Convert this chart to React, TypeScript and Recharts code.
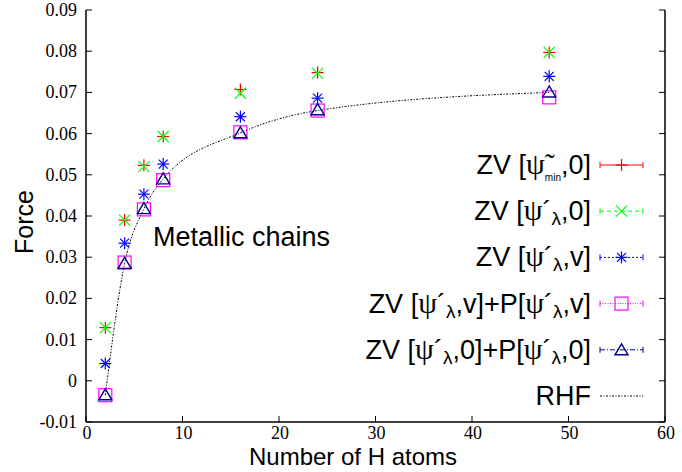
import React from 'react';
import { ComposedChart, Line, XAxis, YAxis, Customized } from 'recharts';

const nAtoms = [2, 4, 6, 8, 16, 24, 48];
const zvMin = [0.0129, 0.039, 0.0523, 0.0593, 0.0707, 0.0748, 0.0797];
const zvLam0 = [0.0129, 0.039, 0.052, 0.0593, 0.0698, 0.0746, 0.0797];
const zvLamV = [0.0042, 0.0334, 0.0453, 0.0526, 0.0641, 0.0686, 0.0739];
const zvPV = [-0.0035, 0.0287, 0.0416, 0.0487, 0.0603, 0.0656, 0.0688];
const zvP0 = [-0.0034, 0.0285, 0.0418, 0.049, 0.0602, 0.0658, 0.0701];
const rhf = [-0.0035, 0.0285, 0.0417, 0.049, 0.0602, 0.0656, 0.07];

const xTicks = [0, 10, 20, 30, 40, 50, 60];
const yTicks = [-0.01, 0, 0.01, 0.02, 0.03, 0.04, 0.05, 0.06, 0.07, 0.08, 0.09];

const xTitle = 'Number of H atoms';
const yTitle = 'Force';
const annotation = 'Metallic chains';

const data = nAtoms.map((n, i) => ({
  n,
  zvMin: zvMin[i],
  zvLam0: zvLam0[i],
  zvLamV: zvLamV[i],
  zvPV: zvPV[i],
  zvP0: zvP0[i],
  rhf: rhf[i],
}));

const SANS = 'Liberation Sans, Arial, Helvetica, sans-serif';
const SERIF = 'Liberation Serif, Times New Roman, serif';

const RED = '#ff0000';
const GREEN = '#00ff00';
const BLUE = '#0000ff';
const MAGENTA = '#ff00ff';
const NAVY = '#00008b';

type MarkerKind = 'plus' | 'cross' | 'star' | 'square' | 'triangle';

function Marker({ kind, cx, cy, color }: { kind: MarkerKind; cx: number; cy: number; color: string }) {
  const s = 6;
  const sw = 1.2;
  if (kind === 'plus') {
    return (
      <g stroke={color} strokeWidth={sw}>
        <line x1={cx - s} y1={cy} x2={cx + s} y2={cy} />
        <line x1={cx} y1={cy - s} x2={cx} y2={cy + s} />
      </g>
    );
  }
  if (kind === 'cross') {
    const d = 5.5;
    return (
      <g stroke={color} strokeWidth={sw}>
        <line x1={cx - d} y1={cy - d} x2={cx + d} y2={cy + d} />
        <line x1={cx - d} y1={cy + d} x2={cx + d} y2={cy - d} />
      </g>
    );
  }
  if (kind === 'star') {
    const d = 4.5;
    return (
      <g stroke={color} strokeWidth={sw}>
        <line x1={cx - s} y1={cy} x2={cx + s} y2={cy} />
        <line x1={cx} y1={cy - s} x2={cx} y2={cy + s} />
        <line x1={cx - d} y1={cy - d} x2={cx + d} y2={cy + d} />
        <line x1={cx - d} y1={cy + d} x2={cx + d} y2={cy - d} />
      </g>
    );
  }
  if (kind === 'square') {
    return <rect x={cx - 6.5} y={cy - 6.5} width={13} height={13} fill="none" stroke={color} strokeWidth={sw} />;
  }
  return (
    <polygon
      points={`${cx},${cy - 6} ${cx - 6.5},${cy + 5} ${cx + 6.5},${cy + 5}`}
      fill="none"
      stroke={color}
      strokeWidth={1.4}
    />
  );
}

const makeDot = (kind: MarkerKind, color: string) => (props: any) => {
  const { cx, cy, index } = props;
  if (cx == null || cy == null) return <g key={`e-${index}`} />;
  return (
    <g key={`${kind}-${index}`}>
      <Marker kind={kind} cx={cx} cy={cy} color={color} />
    </g>
  );
};

const fmtY = (v: number) => (Math.abs(v) < 1e-9 ? '0' : v.toFixed(2));

const BottomTick = (props: any) => {
  const { x, y, payload } = props;
  return (
    <g>
      <line x1={x} y1={y} x2={x} y2={y - 6} stroke="#000" strokeWidth={1} />
      <text x={x + 1} y={y + 17} textAnchor="middle" fontFamily={SERIF} fontSize={18} fill="#000">
        {String(payload.value)}
      </text>
    </g>
  );
};

const TopTick = (props: any) => {
  const { x, y } = props;
  return <line x1={x} y1={y} x2={x} y2={y + 6} stroke="#000" strokeWidth={1} />;
};

const LeftTick = (props: any) => {
  const { x, y, payload } = props;
  return (
    <g>
      <line x1={x} y1={y} x2={x + 6} y2={y} stroke="#000" strokeWidth={1} />
      <text x={x - 9} y={y + 6} textAnchor="end" fontFamily={SERIF} fontSize={18} fill="#000">
        {fmtY(payload.value)}
      </text>
    </g>
  );
};

const RightTick = (props: any) => {
  const { x, y } = props;
  return <line x1={x} y1={y} x2={x - 6} y2={y} stroke="#000" strokeWidth={1} />;
};

type Seg = { t: string; sub?: 'small' | 'tiny'; serif?: boolean };

type LegendRow = {
  segs: Seg[];
  color: string;
  dash?: string;
  marker?: MarkerKind;
  caps: boolean;
};

const PSI: Seg = { t: 'ψ', serif: true };
const PSI_T: Seg = { t: 'ψ̃', serif: true };
const ACUTE: Seg = { t: '´' };
const LAM: Seg = { t: 'λ', sub: 'small' };

const legendRows: LegendRow[] = [
  { segs: [{ t: 'ZV [' }, PSI_T, { t: 'min', sub: 'tiny' }, { t: ',0]' }], color: RED, marker: 'plus', caps: true },
  { segs: [{ t: 'ZV [' }, PSI, ACUTE, LAM, { t: ',0]' }], color: GREEN, dash: '4 3', marker: 'cross', caps: true },
  { segs: [{ t: 'ZV [' }, PSI, ACUTE, LAM, { t: ',v]' }], color: BLUE, dash: '2 2', marker: 'star', caps: true },
  {
    segs: [{ t: 'ZV [' }, PSI, ACUTE, LAM, { t: ',v]+P[' }, PSI, ACUTE, LAM, { t: ',v]' }],
    color: MAGENTA,
    dash: '1 1.5',
    marker: 'square',
    caps: true,
  },
  {
    segs: [{ t: 'ZV [' }, PSI, ACUTE, LAM, { t: ',0]+P[' }, PSI, ACUTE, LAM, { t: ',0]' }],
    color: NAVY,
    dash: '5 2 1 2',
    marker: 'triangle',
    caps: true,
  },
  { segs: [{ t: 'RHF' }], color: '#000', dash: '2 1.5 1 1.5', caps: false },
];

function renderSegs(segs: Seg[]) {
  let offset = 0;
  return segs.map((s, j) => {
    const target = s.sub === 'small' ? 5 : s.sub === 'tiny' ? 7 : 0;
    const dy = target - offset;
    offset = target;
    const fs = s.sub === 'small' ? 19 : s.sub === 'tiny' ? 10 : s.serif ? 30 : 27;
    return (
      <tspan key={j} dy={dy} fontSize={fs} fontFamily={s.serif ? SERIF : SANS}>
        {s.t}
      </tspan>
    );
  });
}

const Overlay = () => {
  const textRight = 591;
  const x1 = 600;
  const x2 = 643;
  const y0 = 165;
  const step = 46.2;
  return (
    <g>
      <text x={153} y={246} fontFamily={SANS} fontSize={27} fill="#000">
        {annotation}
      </text>
      <text x={353} y={465} textAnchor="middle" fontFamily={SANS} fontSize={24} fill="#000">
        {xTitle}
      </text>
      <text
        transform="translate(33,222) rotate(-90)"
        textAnchor="middle"
        fontFamily={SANS}
        fontSize={25}
        fill="#000"
      >
        {yTitle}
      </text>
      {legendRows.map((r, i) => {
        const cy = y0 + i * step;
        return (
          <g key={i}>
            <text x={textRight} y={cy + 9} textAnchor="end" fontFamily={SANS} fontSize={27} fill="#000">
              {renderSegs(r.segs)}
            </text>
            <line x1={x1} y1={cy} x2={x2} y2={cy} stroke={r.color} strokeWidth={1} strokeDasharray={r.dash} />
            {r.caps && (
              <g stroke={r.color} strokeWidth={1}>
                <line x1={x1} y1={cy - 3} x2={x1} y2={cy + 3} />
                <line x1={x2} y1={cy - 3} x2={x2} y2={cy + 3} />
              </g>
            )}
            {r.marker && <Marker kind={r.marker} cx={(x1 + x2) / 2} cy={cy} color={r.color} />}
          </g>
        );
      })}
    </g>
  );
};

export default function App() {
  return (
    <div style={{ position: 'absolute', left: 0, top: 0, width: 682, height: 472, background: '#fff' }}>
      <ComposedChart width={682} height={472} data={data} margin={{ top: 10, right: 0, bottom: 0, left: 0 }}>
        <XAxis
          xAxisId="b"
          type="number"
          dataKey="n"
          domain={[0, 60]}
          ticks={xTicks}
          orientation="bottom"
          height={50}
          axisLine={{ stroke: '#000', strokeWidth: 1.5 }}
          tickLine={false}
          tickSize={0}
          tickMargin={0}
          tick={<BottomTick />}
          interval={0}
          allowDataOverflow
        />
        <XAxis
          xAxisId="t"
          type="number"
          dataKey="n"
          domain={[0, 60]}
          ticks={xTicks}
          orientation="top"
          height={0}
          axisLine={{ stroke: '#000', strokeWidth: 1.5 }}
          tickLine={false}
          tickSize={0}
          tickMargin={0}
          tick={<TopTick />}
          interval={0}
          allowDataOverflow
        />
        <YAxis
          yAxisId="l"
          type="number"
          domain={[-0.01, 0.09]}
          ticks={yTicks}
          orientation="left"
          width={86}
          axisLine={{ stroke: '#000', strokeWidth: 1.5 }}
          tickLine={false}
          tickSize={0}
          tickMargin={0}
          tick={<LeftTick />}
          interval={0}
          allowDataOverflow
        />
        <YAxis
          yAxisId="r"
          type="number"
          domain={[-0.01, 0.09]}
          ticks={yTicks}
          orientation="right"
          width={17}
          axisLine={{ stroke: '#000', strokeWidth: 1.5 }}
          tickLine={false}
          tickSize={0}
          tickMargin={0}
          tick={<RightTick />}
          interval={0}
          allowDataOverflow
        />
        <Line xAxisId="b" yAxisId="l" dataKey="zvMin" stroke="none" isAnimationActive={false} dot={makeDot('plus', RED)} activeDot={false} legendType="none" />
        <Line xAxisId="b" yAxisId="l" dataKey="zvLam0" stroke="none" isAnimationActive={false} dot={makeDot('cross', GREEN)} activeDot={false} legendType="none" />
        <Line xAxisId="b" yAxisId="l" dataKey="zvLamV" stroke="none" isAnimationActive={false} dot={makeDot('star', BLUE)} activeDot={false} legendType="none" />
        <Line xAxisId="b" yAxisId="l" dataKey="zvPV" stroke="none" isAnimationActive={false} dot={makeDot('square', MAGENTA)} activeDot={false} legendType="none" />
        <Line xAxisId="b" yAxisId="l" dataKey="zvP0" stroke="none" isAnimationActive={false} dot={makeDot('triangle', NAVY)} activeDot={false} legendType="none" />
        <Line
          xAxisId="b"
          yAxisId="l"
          dataKey="rhf"
          type="monotone"
          stroke="#000"
          strokeWidth={1}
          strokeDasharray="2 1.5 1 1.5"
          dot={false}
          activeDot={false}
          isAnimationActive={false}
          legendType="none"
        />
        <Customized component={Overlay} />
      </ComposedChart>
    </div>
  );
}
